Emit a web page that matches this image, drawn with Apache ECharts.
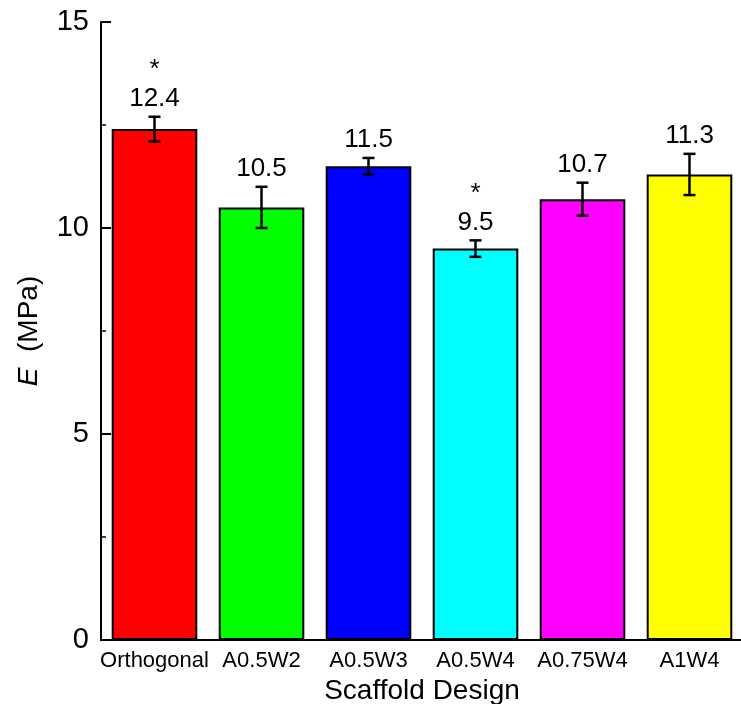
<!DOCTYPE html>
<html><head><meta charset="utf-8">
<script src="https://cdn.jsdelivr.net/npm/echarts@6/dist/echarts.min.js"></script>
<style>html,body{margin:0;padding:0;background:#fff}#c{width:741px;height:704px}</style>
</head><body><div id="c"></div>
<script>
const categories = ['Orthogonal','A0.5W2','A0.5W3','A0.5W4','A0.75W4','A1W4'];
const values = [12.4, 10.5, 11.5, 9.5, 10.7, 11.3];
const errors = [0.3, 0.5, 0.2, 0.2, 0.4, 0.5];
const significant = [true, false, false, true, false, false];
const colors = ['#ff0000','#00ff00','#0000ff','#00ffff','#ff00ff','#ffff00'];
const yTicks = [0, 5, 10, 15];

const FONT = '"Liberation Sans", Arial, sans-serif';
const chart = echarts.init(document.getElementById('c'));
chart.setOption({
  animation: false,
  backgroundColor: '#fff',
  grid: {left: 101, right: -2, top: 22, bottom: 64, containLabel: false, outerBoundsMode: 'none'},
  xAxis: {
    type: 'category', data: categories,
    axisLine: {lineStyle: {color: '#000', width: 2}},
    axisTick: {show: false},
    axisLabel: {color: '#000', fontFamily: FONT, fontSize: 22, margin: 10, interval: 0},
    name: 'Scaffold Design', nameLocation: 'middle', nameGap: 34,
    nameTextStyle: {color: '#000', fontFamily: FONT, fontSize: 28, verticalAlign: 'top'}
  },
  yAxis: [{
    type: 'value', position: 'left', min: yTicks[0], max: yTicks[yTicks.length-1], interval: 5,
    axisLine: {show: true, lineStyle: {color: '#000', width: 2}},
    axisTick: {show: true, inside: true, length: 10, lineStyle: {color: '#000', width: 2}},
    splitLine: {show: false},
    axisLabel: {color: '#000', fontFamily: FONT, fontSize: 29, margin: 12},
    name: '{i|E}  (MPa)', nameLocation: 'middle', nameGap: 58, nameRotate: 90,
    nameTextStyle: {color: '#000', fontFamily: FONT, fontSize: 28, verticalAlign: 'bottom',
      rich: {i: {fontStyle: 'italic', fontFamily: FONT, fontSize: 28, color: '#000'}}}
  }, {
    type: 'value', position: 'left', offset: 0, min: yTicks[0], max: yTicks[yTicks.length-1], interval: 2.5,
    axisLine: {show: false},
    axisTick: {show: true, inside: true, length: 5, lineStyle: {color: '#000', width: 1.5}},
    splitLine: {show: false},
    axisLabel: {show: false}
  }],
  series: [
    {
      type: 'bar', barWidth: '80%',
      data: values.map((v, i) => ({value: v, itemStyle: {color: colors[i]}})),
      itemStyle: {borderColor: '#000', borderWidth: 2}
    },
    {
      type: 'custom',
      data: values.map((v, i) => [i, v, errors[i], significant[i] ? 1 : 0]),
      renderItem: function (params, api) {
        const i = api.value(0), v = api.value(1), e = api.value(2), s = api.value(3);
        const top = api.coord([i, v + e]);
        const bot = api.coord([i, v - e]);
        const x = top[0], hw = 6;
        const children = [
          {type: 'line', shape: {x1: x, y1: top[1], x2: x, y2: bot[1]}, style: {stroke: '#000', lineWidth: 2.5}},
          {type: 'line', shape: {x1: x - hw, y1: top[1], x2: x + hw, y2: top[1]}, style: {stroke: '#000', lineWidth: 2.5}},
          {type: 'line', shape: {x1: x - hw, y1: bot[1], x2: x + hw, y2: bot[1]}, style: {stroke: '#000', lineWidth: 2.5}},
          {type: 'text', style: {text: v.toFixed(1), x: x, y: top[1] - 5, textAlign: 'center', textVerticalAlign: 'bottom',
            font: '26px ' + FONT, fill: '#000'}}
        ];
        if (s) {
          children.push({type: 'text', style: {text: '*', x: x, y: top[1] - 34, textAlign: 'center', textVerticalAlign: 'bottom',
            font: '26px ' + FONT, fill: '#000'}});
        }
        return {type: 'group', children: children};
      },
      z: 10
    }
  ]
});
</script></body></html>
